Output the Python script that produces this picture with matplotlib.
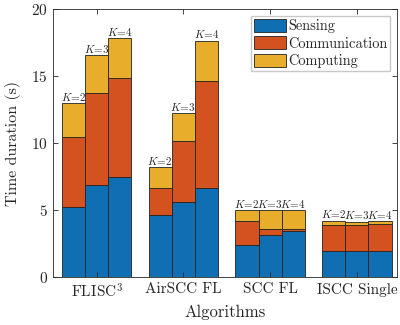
import numpy as np
import matplotlib.pyplot as plt

plt.rcParams['font.family'] = 'cmr10'
plt.rcParams['mathtext.fontset'] = 'cm'
plt.rcParams['axes.formatter.use_mathtext'] = True

algorithms = ['FLISC$^3$', 'AirSCC FL', 'SCC FL', 'ISCC Single']
k_labels = ['$K\\!=\\!2$', '$K\\!=\\!3$', '$K\\!=\\!4$']

# rows: algorithm, cols: K=2,3,4
sensing = np.array([[5.22, 6.87, 7.46],
                    [4.65, 5.62, 6.64],
                    [2.39, 3.13, 3.48],
                    [1.94, 1.94, 1.94]])
communication = np.array([[5.25, 6.86, 7.39],
                          [1.99, 4.53, 8.01],
                          [1.79, 0.45, 0.15],
                          [1.94, 1.94, 2.04]])
computing = np.array([[2.52, 2.84, 2.99],
                      [1.57, 2.09, 2.98],
                      [0.82, 1.42, 1.37],
                      [0.32, 0.25, 0.20]])

colors = ['#0F6FB2', '#D4521F', '#E8AD2A']
names = ['Sensing', 'Communication', 'Computing']
txt = '#262626'

fig = plt.figure(figsize=(4, 3.25), dpi=100)
ax = fig.add_axes([0.133, 0.147, 0.859, 0.824])

x = np.arange(1, 5)
w = 0.267
for j in range(3):
    xs = x + (j - 1) * w
    s = sensing[:, j]
    c = communication[:, j]
    p = computing[:, j]
    ax.bar(xs, s, w, color=colors[0], edgecolor='#222222', linewidth=0.6,
           label=names[0] if j == 0 else None)
    ax.bar(xs, c, w, bottom=s, color=colors[1], edgecolor='#222222', linewidth=0.6,
           label=names[1] if j == 0 else None)
    ax.bar(xs, p, w, bottom=s + c, color=colors[2], edgecolor='#222222', linewidth=0.6,
           label=names[2] if j == 0 else None)
    for xi, top in zip(xs, s + c + p):
        ax.text(xi, top + 0.05, k_labels[j], ha='center', va='bottom', fontsize=8,
                color=txt)

ax.set_xlim(0.5, 4.46)
ax.set_ylim(0, 20)
ax.set_xticks(x)
ax.set_xticklabels(algorithms)
ax.set_yticks([0, 5, 10, 15, 20])
ax.tick_params(direction='in', top=True, right=True, length=3.5, labelsize=11,
               width=0.6, colors=txt, pad=4)
for sp in ax.spines.values():
    sp.set_linewidth(0.6)
    sp.set_color(txt)
ax.set_xlabel('Algorithms', fontsize=12, color=txt, labelpad=3)
ax.set_ylabel('Time duration (s)', fontsize=11.5, color=txt, labelpad=7)
leg = ax.legend(loc='upper right', fontsize=10.4, fancybox=False, edgecolor='#bbbbbb',
                handlelength=2.2, handleheight=1.0, handletextpad=0.15, borderpad=0.2,
                labelspacing=0.22, borderaxespad=0.45)
for t in leg.get_texts():
    t.set_color(txt)

fig.savefig('out.png', dpi=100)
